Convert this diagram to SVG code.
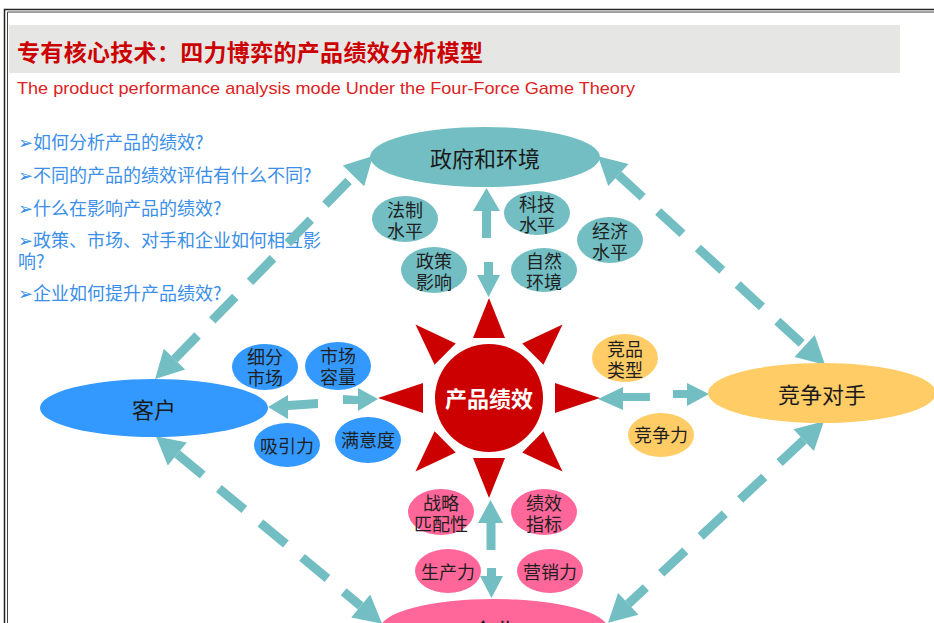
<svg xmlns="http://www.w3.org/2000/svg" width="934" height="623" viewBox="0 0 934 623">
<defs>
<style>
.cjk{font-family:"Noto Sans CJK SC","Noto Sans",sans-serif}
.q{font-family:"Noto Sans CJK SC","DejaVu Sans",sans-serif;font-size:18px;fill:#3b8fe8}
.big{font-family:"Noto Sans CJK SC",sans-serif;font-size:22px;fill:#1a1a1a;text-anchor:middle;dominant-baseline:central}
.sm{font-family:"Noto Sans CJK SC",sans-serif;font-size:18px;fill:#1f1f1f;text-anchor:middle;dominant-baseline:central}
.teal{fill:#72bec3}
.blue{fill:#3399ff}
.orange{fill:#ffcc66}
.pink{fill:#ff6699}
.ray{fill:#cc0000}
.dash{stroke:#72bec3;stroke-width:9;fill:none;stroke-dasharray:33 21;marker-start:url(#ah);marker-end:url(#ah)}
</style>
<marker id="ah" markerUnits="userSpaceOnUse" markerWidth="30" markerHeight="32" viewBox="0 -15 27 30" refX="0" refY="0" orient="auto-start-reverse" overflow="visible">
<path d="M0,-14 L26,0 L0,14 Z" fill="#72bec3"/>
</marker>
</defs>
<rect x="0" y="0" width="934" height="623" fill="#ffffff"/>
<path d="M4.5,623 V9.5 H934" fill="none" stroke="#222" stroke-width="1.5"/>
<path d="M7.5,623 V12 H934" fill="none" stroke="#444" stroke-width="1"/>
<rect x="9" y="25" width="891" height="48" fill="#e6e6e5"/>
<text x="17" y="61" class="cjk" font-size="23" font-weight="bold" fill="#cc0000" textLength="466">专有核心技术：四力博弈的产品绩效分析模型</text>
<text x="17" y="94" font-family="Liberation Sans, Arial, sans-serif" font-size="17" fill="#dd2222" textLength="618" lengthAdjust="spacingAndGlyphs">The product performance analysis mode Under the Four-Force Game Theory</text>
<g id="questions">
<text x="18" y="149" class="q">➢如何分析产品的绩效?</text>
<text x="18" y="182" class="q">➢不同的产品的绩效评估有什么不同?</text>
<text x="18" y="215" class="q">➢什么在影响产品的绩效?</text>
<text x="18" y="247" class="q">➢政策、市场、对手和企业如何相互影</text>
<text x="18" y="268" class="q">响?</text>
<text x="18" y="300" class="q">➢企业如何提升产品绩效?</text>
</g>
<g id="connectors">
<line class="dash" x1="174.5" y1="359.1" x2="353.5" y2="175.9"/>
<line class="dash" x1="618.4" y1="174.9" x2="804.6" y2="346.1"/>
<line class="dash" x1="177.3" y1="454" x2="360.7" y2="606"/>
<line class="dash" x1="803.7" y1="440.1" x2="628.3" y2="603.9"/>
<path class="teal" d="M482,238 L482,211 L473,211 L486.5,188 L500,211 L491,211 L491,238 Z"/>
<path class="teal" d="M484,262 L484,275 L477,275 L488.5,297 L500,275 L493,275 L493,262 Z"/>
<path class="teal" d="M486.5,550 L486.5,523 L478,523 L490.5,500 L503,523 L495.5,523 L495.5,550 Z"/>
<path class="teal" d="M487,568 L487,576 L480,576 L491.5,598 L503,576 L496,576 L496,568 Z"/>
<path class="teal" d="M318,399 L288,401 L288,395 L268,407 L288,419 L288,410 L318,408 Z"/>
<path class="teal" d="M343,395 L358,396 L358,388 L378,399 L358,411 L358,404 L343,404 Z"/>
<path class="teal" d="M650,393 L623,393 L623,387 L598,399 L623,410 L623,401 L650,401 Z"/>
<path class="teal" d="M673,390 L687,390 L687,383 L709,394 L687,406 L687,398 L673,398 Z"/>
</g>
<g id="gov">
<ellipse class="teal" cx="485" cy="157" rx="115" ry="30"/>
<text class="big" x="485" y="157">政府和环境</text>
</g>
<g id="customer">
<ellipse class="blue" cx="154" cy="408" rx="114" ry="29"/>
<text class="big" x="154" y="408">客户</text>
</g>
<g id="competitor">
<ellipse class="orange" cx="822" cy="393" rx="114" ry="30"/>
<text class="big" x="822" y="393">竞争对手</text>
</g>
<g id="enterprise">
<ellipse class="pink" cx="494" cy="629" rx="114" ry="30"/>
<text class="big" x="494" y="629">企业</text>
</g>
<g id="product">
<path class="ray" d="M489,298 L473,338 L505,338 Z"/>
<path class="ray" d="M489,498 L473,458 L505,458 Z"/>
<path class="ray" d="M378,398 L423,383 L423,413 Z"/>
<path class="ray" d="M600,398 L555,383 L555,413 Z"/>
<path class="ray" d="M489,294 L474,336 L504,336 Z" transform="rotate(45 489 398)"/>
<path class="ray" d="M489,294 L474,336 L504,336 Z" transform="rotate(135 489 398)"/>
<path class="ray" d="M489,294 L474,336 L504,336 Z" transform="rotate(225 489 398)"/>
<path class="ray" d="M489,294 L474,336 L504,336 Z" transform="rotate(315 489 398)"/>
<circle cx="489" cy="398" r="54" fill="#cc0000"/>
<text x="489" y="397" class="cjk" font-size="22" font-weight="bold" fill="#ffffff" text-anchor="middle" dominant-baseline="central">产品绩效</text>
</g>
<g id="f-law"><ellipse class="teal" cx="405" cy="219" rx="33" ry="23"/><text class="sm" x="405" y="209">法制</text><text class="sm" x="405" y="230">水平</text></g>
<g id="f-policy"><ellipse class="teal" cx="434" cy="270" rx="33" ry="23"/><text class="sm" x="434" y="260">政策</text><text class="sm" x="434" y="281">影响</text></g>
<g id="f-tech"><ellipse class="teal" cx="537" cy="213" rx="33" ry="22"/><text class="sm" x="537" y="203">科技</text><text class="sm" x="537" y="224">水平</text></g>
<g id="f-nature"><ellipse class="teal" cx="544" cy="270" rx="33" ry="22"/><text class="sm" x="544" y="260">自然</text><text class="sm" x="544" y="281">环境</text></g>
<g id="f-econ"><ellipse class="teal" cx="610" cy="240" rx="33" ry="23"/><text class="sm" x="610" y="230">经济</text><text class="sm" x="610" y="251">水平</text></g>
<g id="c-segment"><ellipse class="blue" cx="265" cy="367" rx="33" ry="23"/><text class="sm" x="265" y="356">细分</text><text class="sm" x="265" y="377">市场</text></g>
<g id="c-capacity"><ellipse class="blue" cx="338" cy="366" rx="33" ry="24"/><text class="sm" x="338" y="355">市场</text><text class="sm" x="338" y="376">容量</text></g>
<g id="c-attract"><ellipse class="blue" cx="287" cy="445" rx="33" ry="22"/><text class="sm" x="287" y="445">吸引力</text></g>
<g id="c-satisfy"><ellipse class="blue" cx="368" cy="440" rx="33" ry="23"/><text class="sm" x="368" y="439">满意度</text></g>
<g id="k-type"><ellipse class="orange" cx="625" cy="358" rx="33" ry="24"/><text class="sm" x="625" y="348">竞品</text><text class="sm" x="625" y="369">类型</text></g>
<g id="k-power"><ellipse class="orange" cx="661" cy="435" rx="33" ry="22"/><text class="sm" x="661" y="434">竞争力</text></g>
<g id="e-strategy"><ellipse class="pink" cx="441" cy="512" rx="33" ry="23"/><text class="sm" x="441" y="502">战略</text><text class="sm" x="441" y="523">匹配性</text></g>
<g id="e-kpi"><ellipse class="pink" cx="544" cy="512" rx="33" ry="23"/><text class="sm" x="544" y="502">绩效</text><text class="sm" x="544" y="523">指标</text></g>
<g id="e-prod"><ellipse class="pink" cx="448" cy="571" rx="33" ry="22"/><text class="sm" x="448" y="571">生产力</text></g>
<g id="e-market"><ellipse class="pink" cx="550" cy="571" rx="33" ry="22"/><text class="sm" x="550" y="571">营销力</text></g>
</svg>
